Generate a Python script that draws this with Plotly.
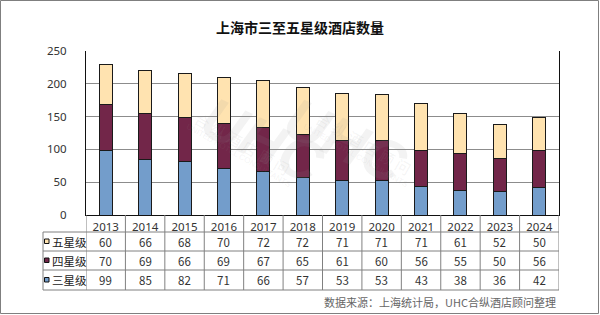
import plotly.graph_objects as go

years = ["2013", "2014", "2015", "2016", "2017", "2018", "2019", "2020", "2021", "2022", "2023", "2024"]
five_star = [60, 66, 68, 70, 72, 72, 71, 71, 71, 61, 52, 50]
four_star = [70, 69, 66, 69, 67, 65, 61, 60, 56, 55, 50, 56]
three_star = [99, 85, 82, 71, 66, 57, 53, 53, 43, 38, 36, 42]
series_names = ["五星级", "四星级", "三星级"]
title_text = "上海市三至五星级酒店数量"
source_text = "数据来源：上海统计局，UHC合纵酒店顾问整理"

W, H = 600, 315
L, R, T, B = 86, 559, 51, 215  # plot area pixel box
pw, ph = R - L, B - T

def px(x):
    return (x - L) / pw

def py(y):
    return (B - y) / ph

FONT = "Noto Sans CJK SC, Noto Sans, sans-serif"
colors = {"三星级": "#739dcb", "四星级": "#722649", "五星级": "#ffe3b0"}

fig = go.Figure()
for name, vals in [("三星级", three_star), ("四星级", four_star), ("五星级", five_star)]:
    fig.add_trace(go.Bar(
        x=years, y=vals, name=name, width=0.33,
        marker=dict(color=colors[name], line=dict(color="#1a1a1a", width=1)),
        showlegend=False, hoverinfo="y+name",
    ))

shapes = []
annotations = []
grid_col = "#808080"
n = len(years)
row_lines = [232, 251, 270, 290]
row_centers = [241.5, 260.5, 280]
for yl in row_lines:
    shapes.append(dict(type="line", xref="paper", yref="paper", x0=px(43), x1=px(R), y0=py(yl), y1=py(yl),
                       line=dict(color=grid_col, width=1)))
for i in range(n + 1):
    shapes.append(dict(type="line", xref="x", yref="paper", x0=i - 0.5, x1=i - 0.5, y0=py(B), y1=py(290),
                       line=dict(color=grid_col, width=1)))
shapes.append(dict(type="line", xref="paper", yref="paper", x0=px(43), x1=px(43), y0=py(232), y1=py(290),
                   line=dict(color=grid_col, width=1)))
shapes.append(dict(type="rect", xref="paper", yref="paper", x0=px(0.5), x1=px(W - 1.5), y0=py(H - 1.5), y1=py(0.5),
                   line=dict(color="#7f7f7f", width=1)))

table_rows = [("五星级", five_star), ("四星级", four_star), ("三星级", three_star)]
for (name, vals), yc in zip(table_rows, row_centers):
    for i, v in enumerate(vals):
        annotations.append(dict(x=i, y=py(yc), xref="x", yref="paper", text=str(v), showarrow=False,
                                font=dict(family=FONT, size=11.5, color="#333333"), xanchor="center", yanchor="middle"))
    shapes.append(dict(type="rect", xref="paper", yref="paper", x0=px(44.5), x1=px(49), y0=py(yc - 2.5), y1=py(yc + 2),
                       fillcolor=colors[name], line=dict(color="#111111", width=1)))
    annotations.append(dict(x=px(49.5), y=py(yc), xref="paper", yref="paper", text=name, showarrow=False,
                            font=dict(family=FONT, size=11.5, color="#222222"), xanchor="left", yanchor="middle"))

annotations.append(dict(x=px(558), y=py(302), xref="paper", yref="paper", text=source_text, showarrow=False,
                        font=dict(family=FONT, size=11, color="#666666"), xanchor="right", yanchor="middle"))

wm = "rgba(150,150,150,0.11)"
for cx in [190, 420]:
    annotations.append(dict(x=px(cx), y=py(140), xref="paper", yref="paper", text="<b><i>UHC</i></b>", showarrow=False,
                            font=dict(family="Liberation Sans, sans-serif", size=58, color=wm), textangle=25))
    annotations.append(dict(x=px(cx - 2), y=py(182), xref="paper", yref="paper", text="合 纵 酒 店 顾 问", showarrow=False,
                            font=dict(family=FONT, size=15, color=wm), textangle=30))
    annotations.append(dict(x=px(cx - 8), y=py(192), xref="paper", yref="paper", text="UNITED HOTEL CONSULTANTS", showarrow=False,
                            font=dict(family="Liberation Sans, sans-serif", size=8, color=wm), textangle=30))

fig.update_layout(
    width=W, height=H,
    margin=dict(l=L, r=W - R, t=T, b=H - B, pad=0),
    paper_bgcolor="white", plot_bgcolor="white",
    barmode="stack",
    title=dict(text="<b>" + title_text + "</b>", x=0.5, xanchor="center", y=1 - 28 / H, yanchor="middle",
               font=dict(family=FONT, size=14, color="#111111")),
    xaxis=dict(type="category", showgrid=False, showline=True, linecolor="#111111", linewidth=1,
               ticks="", tickfont=dict(family="Noto Sans, sans-serif", size=11.5, color="#333333"), ticklabelstandoff=1,
               range=[-0.5, n - 0.5], mirror=False, fixedrange=True),
    yaxis=dict(range=[0, 250], dtick=50, showgrid=True, gridcolor="#8c8c8c", gridwidth=1,
               showline=True, linecolor="#111111", linewidth=1, mirror=True, zeroline=False,
               ticks="", tickfont=dict(family="Noto Sans, sans-serif", size=11.5, color="#333333"), ticklabelstandoff=16,
               fixedrange=True),
    shapes=shapes, annotations=annotations,
    font=dict(family=FONT),
)

fig.write_html("out.html")
